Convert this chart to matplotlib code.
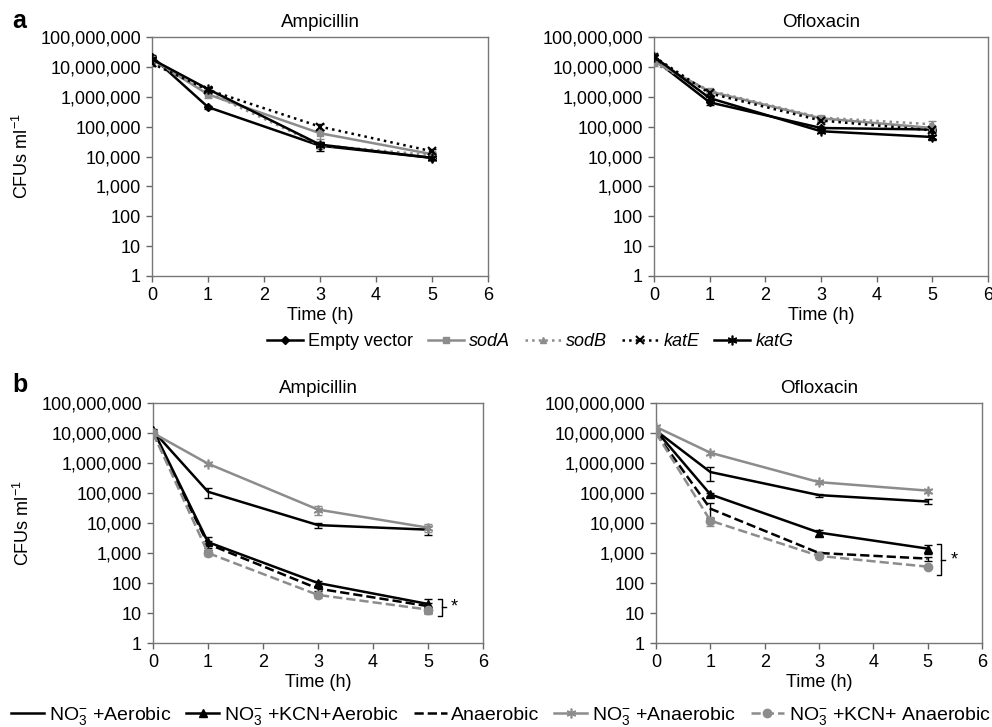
import matplotlib
matplotlib.use("Agg")
import matplotlib.pyplot as plt
from matplotlib import font_manager
from matplotlib.ticker import FuncFormatter, FixedLocator, NullLocator

plt.rcParams['font.family'] = ['Liberation Sans', 'DejaVu Sans']
plt.rcParams['mathtext.fontset'] = 'custom'
plt.rcParams['mathtext.rm'] = 'Liberation Sans'
plt.rcParams['mathtext.it'] = 'Liberation Sans:italic'

# ---- data ----
time = [0, 1, 3, 5]

# panel a: overexpression strains
a_names = ["Empty vector", "sodA", "sodB", "katE", "katG"]
a_amp = {
    "Empty vector": [2.2e7, 4.5e5, 2.3e4, 9.0e3],
    "sodA": [1.8e7, 1.2e6, 6.0e4, 1.2e4],
    "sodB": [1.5e7, 1.4e6, 2.4e4, 1.1e4],
    "katE": [1.3e7, 1.7e6, 1.0e5, 1.5e4],
    "katG": [1.8e7, 1.8e6, 2.5e4, 9.0e3],
}
a_amp_err = {
    "Empty vector": [3e6, 5e4, 8e3, 1.5e3],
    "sodA": [2e6, 3e5, 2e4, 2e3],
    "sodB": [2e6, 2e5, 5e3, 2e3],
    "katE": [2e6, 2e5, 2e4, 3e3],
    "katG": [2e6, 2e5, 5e3, 1.5e3],
}
a_ofl = {
    "Empty vector": [1.8e7, 6.5e5, 9.0e4, 8.0e4],
    "sodA": [1.5e7, 1.5e6, 1.9e5, 9.0e4],
    "sodB": [1.3e7, 1.6e6, 2.0e5, 1.2e5],
    "katE": [2.2e7, 1.3e6, 1.6e5, 7.5e4],
    "katG": [2.2e7, 9.0e5, 7.0e4, 4.5e4],
}
a_ofl_err = {
    "Empty vector": [2e6, 1e5, 1e4, 1e4],
    "sodA": [2e6, 2e5, 3e4, 1e4],
    "sodB": [2e6, 2e5, 3e4, 4e4],
    "katE": [3e6, 2e5, 2e4, 1e4],
    "katG": [3e6, 1e5, 1e4, 8e3],
}

# panel b: respiration conditions
b_names = ["NO3 +Aerobic", "NO3 +KCN+Aerobic", "Anaerobic",
           "NO3 +Anaerobic", "NO3 +KCN+ Anaerobic"]
b_labels = [r"NO$_3^{-}$ +Aerobic", r"NO$_3^{-}$ +KCN+Aerobic", "Anaerobic",
            r"NO$_3^{-}$ +Anaerobic", r"NO$_3^{-}$ +KCN+ Anaerobic"]
b_amp = {
    "NO3 +Aerobic": [1.2e7, 1.1e5, 8.5e3, 6.0e3],
    "NO3 +KCN+Aerobic": [1.3e7, 2.3e3, 100, 20],
    "Anaerobic": [1.0e7, 2.0e3, 65, 17],
    "NO3 +Anaerobic": [1.0e7, 9.5e5, 2.8e4, 7.0e3],
    "NO3 +KCN+ Anaerobic": [1.0e7, 1.0e3, 40, 13],
}
b_amp_err = {
    "NO3 +Aerobic": [1e6, 4e4, 1.5e3, 2e3],
    "NO3 +KCN+Aerobic": [1e6, 1e3, 20, 10],
    "Anaerobic": [1e6, 5e2, 10, 5],
    "NO3 +Anaerobic": [1e6, 1e5, 1e4, 2e3],
    "NO3 +KCN+ Anaerobic": [1e6, 2e2, 8, 4],
}
b_ofl = {
    "NO3 +Aerobic": [1.2e7, 5.0e5, 8.5e4, 5.2e4],
    "NO3 +KCN+Aerobic": [1.2e7, 9.0e4, 4.8e3, 1.4e3],
    "Anaerobic": [1.0e7, 3.0e4, 1.0e3, 650],
    "NO3 +Anaerobic": [1.6e7, 2.2e6, 2.3e5, 1.2e5],
    "NO3 +KCN+ Anaerobic": [1.0e7, 1.2e4, 800, 350],
}
b_ofl_err = {
    "NO3 +Aerobic": [1e6, 2.5e5, 1e4, 1e4],
    "NO3 +KCN+Aerobic": [1e6, 1e4, 1e3, 5e2],
    "Anaerobic": [1e6, 1.5e4, 1e2, 1e2],
    "NO3 +Anaerobic": [2e6, 3e5, 3e4, 2e4],
    "NO3 +KCN+ Anaerobic": [1e6, 4e3, 1e2, 40],
}
# significance brackets (low, high) at t=5
b_amp_bracket = [8, 30]
b_ofl_bracket = [180, 2000]

gray = "#8c8c8c"
a_style = {
    "Empty vector": dict(color="black", ls="-", marker="D", ms=4),
    "sodA": dict(color=gray, ls="-", marker="s", ms=5),
    "sodB": dict(color=gray, ls=":", marker="^", ms=5),
    "katE": dict(color="black", ls=":", marker="x", ms=6, mew=1.5),
    "katG": dict(color="black", ls="-", marker=(6, 2, 0), ms=7, mew=1.2),
}
b_style = {
    "NO3 +Aerobic": dict(color="black", ls="-", marker=None),
    "NO3 +KCN+Aerobic": dict(color="black", ls="-", marker="^", ms=6),
    "Anaerobic": dict(color="black", ls="--", marker=None),
    "NO3 +Anaerobic": dict(color=gray, ls="-", marker=(6, 2, 0), ms=7, mew=1.2),
    "NO3 +KCN+ Anaerobic": dict(color=gray, ls="--", marker="o", ms=6),
}

W, H = 992, 727
fig = plt.figure(figsize=(W / 100, H / 100), dpi=100)


def px_axes(x0, x1, y0, y1):
    return fig.add_axes([x0 / W, (H - y1) / H, (x1 - x0) / W, (y1 - y0) / H])


def style_axes(ax, title, ylabel):
    ax.set_yscale("log")
    ax.set_ylim(1, 1e8)
    ax.set_xlim(0, 6)
    ax.yaxis.set_major_locator(FixedLocator([10 ** k for k in range(9)]))
    ax.yaxis.set_minor_locator(NullLocator())
    ax.yaxis.set_major_formatter(FuncFormatter(lambda v, p: "{:,.0f}".format(v)))
    ax.set_xticks(range(7))
    ax.tick_params(labelsize=13, length=4, width=1, color="#666666", pad=4)
    for s in ax.spines.values():
        s.set_color("#777777")
        s.set_linewidth(1)
    ax.set_title(title, fontsize=13.5, pad=7)
    ax.set_xlabel("Time (h)", fontsize=13, labelpad=2)
    if ylabel:
        ax.set_ylabel(r"CFUs ml$^{-1}$", fontsize=13, labelpad=6)


def draw(ax, names, data, err, styles, labels=None):
    handles = []
    for i, n in enumerate(names):
        st = styles[n]
        ax.errorbar(time, data[n], yerr=err[n], fmt="none", ecolor=st["color"],
                    elinewidth=1, capsize=3, capthick=1, zorder=2)
        h, = ax.plot(time, data[n], color=st["color"], ls=st["ls"],
                     marker=st.get("marker"), ms=st.get("ms", 5),
                     mew=st.get("mew", 1), lw=1.8, zorder=3,
                     label=labels[i] if labels else n)
        handles.append(h)
    return handles


def bracket(ax, lo, hi):
    x = 5.25
    ax.plot([x - 0.07, x, x, x - 0.07], [lo, lo, hi, hi], color="black", lw=1)
    mid = (lo * hi) ** 0.5
    ax.plot([x, x + 0.07], [mid, mid], color="black", lw=1)
    ax.text(x + 0.17, mid, "*", fontsize=13, va="center", ha="left")


ax1 = px_axes(152, 488, 37, 276)
ax2 = px_axes(654, 988, 37, 276)
ax3 = px_axes(153, 483, 403, 643)
ax4 = px_axes(656, 982, 403, 643)

style_axes(ax1, "Ampicillin", True)
style_axes(ax2, "Ofloxacin", False)
style_axes(ax3, "Ampicillin", True)
style_axes(ax4, "Ofloxacin", False)

ha = draw(ax1, a_names, a_amp, a_amp_err, a_style)
draw(ax2, a_names, a_ofl, a_ofl_err, a_style)
hb = draw(ax3, b_names, b_amp, b_amp_err, b_style, b_labels)
draw(ax4, b_names, b_ofl, b_ofl_err, b_style, b_labels)

bracket(ax3, *b_amp_bracket)
bracket(ax4, *b_ofl_bracket)

leg_a = fig.legend(handles=ha, labels=a_names, loc="center",
                   bbox_to_anchor=(530 / W, 1 - 342 / H), ncol=5, frameon=False,
                   fontsize=13, handlelength=2.0, handletextpad=0.3,
                   columnspacing=0.8)
for t in leg_a.get_texts()[1:]:
    t.set_style("italic")

# panel b legend is set in a condensed face in the original
names_installed = {f.name for f in font_manager.fontManager.ttflist}
if "Liberation Sans Narrow" in names_installed:
    leg_family, leg_size = ["Liberation Sans Narrow", "Liberation Sans"], 15
else:
    leg_family, leg_size = ["Liberation Sans"], 14
fig.legend(handles=hb, labels=b_labels, loc="center",
           bbox_to_anchor=(501 / W, 1 - 716 / H), ncol=5, frameon=False,
           prop={"family": leg_family, "size": leg_size},
           handlelength=1.7, handletextpad=0.25, columnspacing=0.75)

fig.text(12 / W, 1 - 28 / H, "a", fontsize=18, fontweight="bold", va="baseline")
fig.text(12 / W, 1 - 392 / H, "b", fontsize=18, fontweight="bold", va="baseline")

fig.savefig("out.png", dpi=100)
